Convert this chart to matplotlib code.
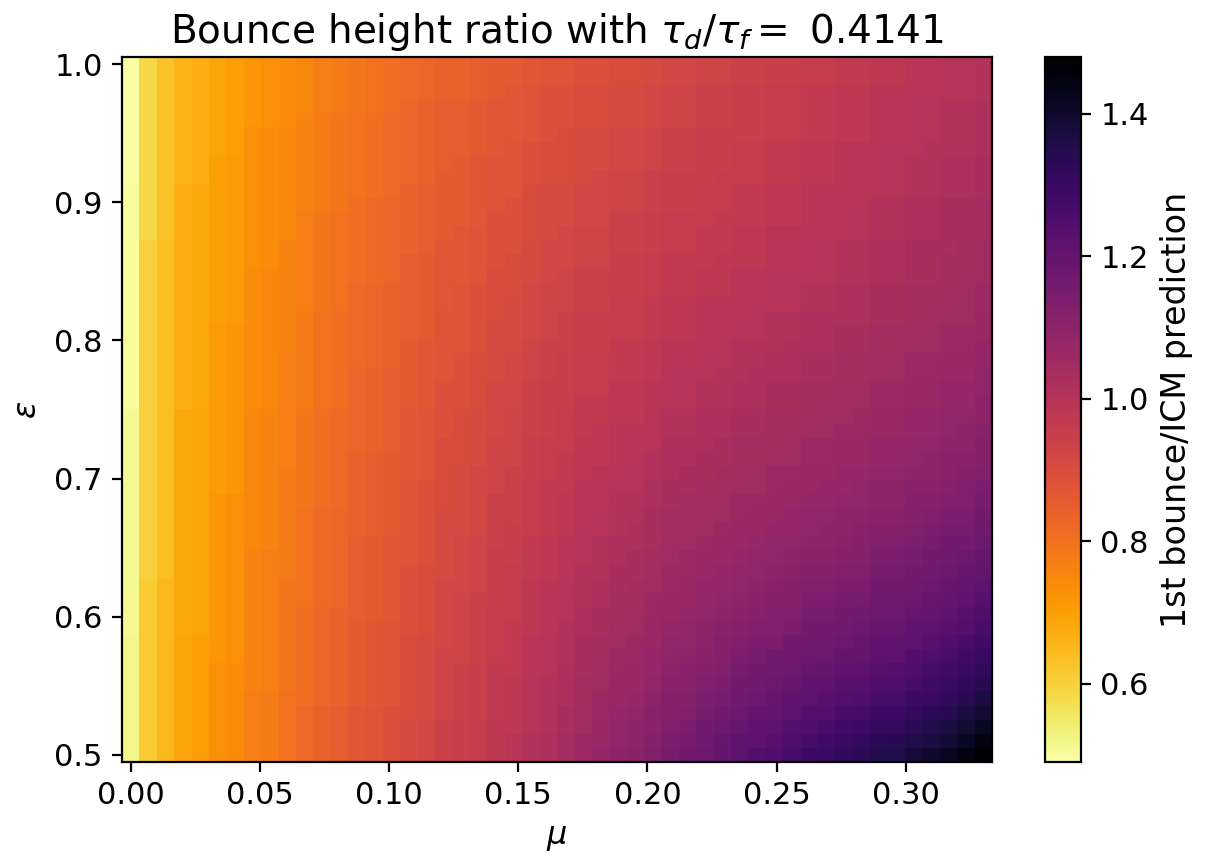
import numpy as np
import matplotlib
matplotlib.use("Agg")
import matplotlib.pyplot as plt

tau_ratio = "0.4141"

# grid of the parameter scan (cell centres)
mu = np.linspace(0.0, 0.33, 50)
eps = np.linspace(0.5, 1.0, 50)

# 1st bounce / ICM prediction, x100
# one line per eps (first line eps=0.5, last line eps=1.0), one column per mu
ratio_x100 = """
52 61 65 69 70 73 74 77 78 80 82 84 85 87 88 89 91 92 94 95 96 98 99 101 102 104 106 108 110 111 113 115 116 118 120 122 124 125 127 129 130 132 133 135 136 138 140 142 145 148
52 61 65 69 70 73 74 77 78 80 82 84 85 87 88 89 91 92 94 95 96 98 99 101 102 104 106 107 109 110 112 114 115 117 119 121 122 123 125 127 128 130 131 133 134 136 137 139 142 145
52 61 65 69 70 73 74 77 78 80 82 84 85 87 88 89 91 92 94 95 96 98 98 100 101 103 105 107 109 110 111 113 114 116 118 119 121 122 124 125 126 128 129 131 131 133 135 137 139 142
52 61 65 69 70 73 74 77 78 80 82 84 85 87 88 89 90 91 93 94 95 97 98 100 101 103 105 106 108 109 111 112 113 115 116 118 120 120 122 124 124 126 127 129 129 131 133 134 137 139
52 61 65 69 70 73 74 77 78 80 81 83 84 86 87 88 90 91 93 94 95 97 98 100 101 102 104 106 107 108 110 112 112 114 115 117 118 119 121 122 123 124 125 127 127 129 130 132 134 137
52 61 65 69 70 73 74 76 77 79 81 83 84 86 87 88 90 91 93 94 95 97 98 100 101 102 104 105 107 107 109 111 111 113 114 116 117 118 119 121 121 123 123 125 125 127 128 130 132 134
52 61 65 69 70 73 74 76 77 79 81 83 84 86 87 88 90 91 93 94 95 97 97 99 100 102 103 105 106 107 108 110 111 112 113 115 116 117 118 119 120 121 122 123 124 125 127 128 130 132
52 61 65 69 70 72 73 76 77 79 81 83 84 86 87 88 90 91 93 93 94 96 97 99 100 101 103 104 106 106 108 109 110 111 112 114 115 116 117 118 118 120 120 122 122 124 125 126 128 130
52 61 65 69 70 72 73 76 77 79 81 83 84 86 87 88 90 91 92 93 94 96 97 99 100 101 103 104 105 106 107 109 109 110 112 113 114 114 116 117 117 118 119 121 121 122 123 125 126 128
51 61 65 68 69 72 73 76 77 79 81 83 84 86 87 88 89 90 92 93 94 96 97 98 99 101 102 103 105 105 107 108 109 110 111 112 113 113 114 116 116 117 118 119 119 121 122 123 124 126
51 61 65 68 69 72 73 76 77 79 81 83 84 85 86 87 89 90 92 93 94 96 96 98 99 100 102 103 104 105 106 107 108 109 110 111 112 113 113 115 115 116 117 118 118 119 120 121 123 125
51 61 65 68 69 72 73 76 77 79 80 82 83 85 86 87 89 90 92 93 94 95 96 98 99 100 101 102 104 104 106 107 107 108 109 110 111 112 112 114 114 115 115 117 117 118 119 120 121 123
51 61 65 68 69 72 73 76 77 79 80 82 83 85 86 87 89 90 92 92 93 95 96 98 99 100 101 102 103 104 105 106 107 108 108 109 110 111 112 113 113 114 114 116 116 117 118 119 120 122
51 60 64 68 69 72 73 76 77 78 80 82 83 85 86 87 89 90 91 92 93 95 96 97 98 99 101 101 103 103 104 106 106 107 108 109 109 110 111 112 112 113 113 115 115 116 117 118 119 120
51 60 64 68 69 72 73 76 77 78 80 82 83 85 86 87 88 89 91 92 93 95 95 97 98 99 100 101 102 103 104 105 106 107 107 108 109 109 110 111 111 112 112 114 114 115 116 117 118 119
51 60 64 68 69 72 73 75 76 78 80 82 83 85 86 87 88 89 91 92 93 94 95 97 98 99 100 101 102 102 103 105 105 106 107 107 108 109 109 110 110 111 112 113 113 114 115 116 116 118
51 60 64 68 69 72 73 75 76 78 80 82 83 84 85 86 88 89 91 91 92 94 95 96 97 98 100 100 101 102 103 104 105 105 106 107 107 108 108 109 110 110 111 112 112 113 114 115 115 117
51 60 64 68 69 72 73 75 76 78 80 82 83 84 85 86 88 89 91 91 92 94 94 96 97 98 99 100 101 101 103 104 104 105 105 106 107 107 108 109 109 110 110 111 111 112 113 114 114 116
51 60 64 68 69 72 73 75 76 78 79 81 82 84 85 86 88 89 90 91 92 94 94 96 97 98 99 99 101 101 102 103 104 104 105 106 106 107 107 108 108 109 109 110 110 112 112 113 113 115
51 60 64 68 69 71 72 75 76 78 79 81 82 84 85 86 88 89 90 91 92 93 94 96 97 97 99 99 100 100 102 103 103 104 104 105 105 106 107 107 108 108 109 110 110 111 111 112 113 114
51 60 64 68 69 71 72 75 76 78 79 81 82 84 85 86 87 88 90 91 92 93 94 95 96 97 98 99 100 100 101 102 103 103 104 105 105 106 106 107 107 108 108 109 109 110 110 111 112 113
51 60 64 68 69 71 72 75 76 77 79 81 82 84 85 86 87 88 90 90 91 93 93 95 96 97 98 98 99 100 101 102 102 103 103 104 104 105 105 106 106 107 107 108 108 109 110 111 111 112
51 60 64 68 69 71 72 75 76 77 79 81 82 83 84 85 87 88 90 90 91 93 93 95 96 96 98 98 99 99 100 102 102 102 103 104 104 104 105 106 106 107 107 108 108 109 109 110 110 112
51 60 64 68 69 71 72 75 76 77 79 81 82 83 84 85 87 88 89 90 91 92 93 94 95 96 97 98 99 99 100 101 101 102 102 103 103 104 104 105 105 106 106 107 107 108 108 109 110 111
51 60 64 68 69 71 72 75 76 77 79 81 82 83 84 85 87 88 89 90 91 92 93 94 95 96 97 97 98 98 100 101 101 102 102 103 103 104 104 105 105 105 106 107 107 108 108 109 109 110
50 60 64 67 68 71 72 74 75 77 78 80 81 83 84 85 86 87 89 89 90 92 92 94 95 95 97 97 98 98 99 100 100 101 101 102 102 103 103 104 104 105 105 106 106 107 107 108 108 110
50 60 64 67 68 71 72 74 75 77 78 80 81 83 84 85 86 87 89 89 90 92 92 94 95 95 96 96 98 98 99 100 100 101 101 102 102 103 103 104 104 104 105 106 106 107 107 108 108 109
50 60 64 67 68 71 72 74 75 77 78 80 81 83 84 85 86 87 88 89 90 91 92 93 94 95 96 96 97 97 98 100 100 100 101 101 102 102 102 103 103 104 104 105 105 106 106 107 107 109
50 60 64 67 68 71 72 74 75 77 78 80 81 82 83 84 86 87 88 89 90 91 92 93 94 95 96 96 97 97 98 99 99 100 100 101 101 102 102 103 103 104 104 105 105 106 106 107 107 108
50 60 64 67 68 71 72 74 75 76 78 80 81 82 83 84 86 87 88 88 89 91 91 93 94 94 95 95 97 97 98 99 99 100 100 101 101 101 102 102 102 103 103 104 104 105 105 106 106 108
50 60 64 67 68 71 72 74 75 76 78 80 81 82 83 84 85 86 88 88 89 91 91 92 93 94 95 95 96 96 97 98 98 99 99 100 100 101 101 102 102 103 103 104 104 105 105 106 106 107
50 60 64 67 68 70 71 74 75 76 78 80 81 82 83 84 85 86 88 88 89 90 91 92 93 94 95 95 96 96 97 98 98 99 99 100 100 101 101 102 102 102 102 103 103 104 104 105 105 107
50 60 64 67 68 70 71 74 75 76 77 79 80 82 83 84 85 86 87 88 89 90 91 92 93 93 94 94 96 96 97 98 98 99 99 99 100 100 100 101 101 102 102 103 103 104 104 105 105 106
50 60 64 67 68 70 71 74 75 76 77 79 80 82 83 84 85 86 87 88 89 90 90 92 93 93 94 94 95 95 96 97 97 98 98 99 99 100 100 101 101 102 102 103 103 104 104 104 105 106
50 60 64 67 68 70 71 74 75 76 77 79 80 81 82 83 85 86 87 87 88 90 90 91 92 93 94 94 95 95 96 97 97 98 98 99 99 100 100 100 100 101 101 102 102 103 103 104 104 105
50 60 64 67 68 70 71 73 74 76 77 79 80 81 82 83 85 86 87 87 88 89 90 91 92 92 93 93 95 95 96 97 97 97 98 98 98 99 99 100 100 101 101 102 102 103 103 104 104 105
50 60 64 67 68 70 71 73 74 76 77 79 80 81 82 83 84 85 87 87 88 89 89 91 92 92 93 93 94 94 95 96 96 97 97 98 98 99 99 100 100 101 101 102 102 103 103 103 104 105
50 59 63 67 68 70 71 73 74 75 77 79 80 81 82 83 84 85 86 87 88 89 89 90 91 92 93 93 94 94 95 96 96 97 97 98 98 99 99 99 99 100 100 101 101 102 102 103 103 104
50 59 63 67 68 70 71 73 74 75 77 79 80 81 82 83 84 85 86 86 87 89 89 90 91 91 92 92 94 94 95 96 96 96 97 97 97 98 98 99 99 100 100 101 101 102 102 103 103 104
50 59 63 67 68 70 71 73 74 75 76 78 79 81 82 83 84 85 86 86 87 88 89 90 91 91 92 92 93 93 94 95 95 96 96 97 97 98 98 99 99 100 100 101 101 102 102 103 103 104
50 59 63 67 68 70 71 73 74 75 76 78 79 80 81 82 84 85 86 86 87 88 88 90 91 91 92 92 93 93 94 95 95 96 96 97 97 98 98 99 99 99 99 100 100 101 101 102 102 103
49 59 63 66 67 70 71 73 74 75 76 78 79 80 81 82 83 84 86 86 87 88 88 89 90 90 91 92 93 93 94 95 95 95 96 96 96 97 97 98 98 99 99 100 100 101 101 102 102 103
49 59 63 66 67 70 71 73 74 75 76 78 79 80 81 82 83 84 85 86 87 88 88 89 90 90 91 91 92 92 93 94 94 95 95 96 96 97 97 98 98 99 99 100 100 101 101 102 102 103
49 59 63 66 67 69 70 73 74 75 76 78 79 80 81 82 83 84 85 85 86 87 88 89 90 90 91 91 92 92 93 94 94 95 95 96 96 97 97 98 98 99 99 100 100 100 101 101 101 102
49 59 63 66 67 69 70 73 74 75 76 78 79 80 81 82 83 84 85 85 86 87 87 88 89 90 91 91 92 92 93 94 94 95 95 95 95 96 96 97 97 98 98 99 99 100 100 101 101 102
49 59 63 66 67 69 70 72 73 74 76 78 79 80 81 82 83 84 85 85 86 87 87 88 89 89 90 90 91 91 92 93 93 94 94 95 95 96 96 97 97 98 98 99 99 100 100 101 101 102
49 59 63 66 67 69 70 72 73 74 75 77 78 79 80 81 83 84 85 85 86 87 87 88 89 89 90 90 91 91 92 93 93 94 94 95 95 96 96 97 97 98 98 99 99 100 100 101 101 102
49 59 63 66 67 69 70 72 73 74 75 77 78 79 80 81 82 83 84 84 85 86 87 88 89 89 90 90 91 91 92 93 93 94 94 95 95 96 96 97 97 98 98 99 99 100 100 100 100 101
49 59 63 66 67 69 70 72 73 74 75 77 78 79 80 81 82 83 84 84 85 86 86 87 88 88 89 89 90 90 91 92 92 93 93 94 94 95 95 96 96 97 97 98 98 99 99 100 100 101
49 59 63 66 67 69 70 72 73 74 75 77 78 79 80 81 82 83 84 84 85 86 86 87 88 88 89 89 90 90 91 92 92 93 93 94 94 95 95 96 96 97 97 98 98 99 99 100 100 101
"""
ratio = np.array([[int(v) for v in line.split()]
                  for line in ratio_x100.strip().splitlines()]) / 100.0
assert ratio.shape == (len(eps), len(mu)), ratio.shape

plt.rcParams["font.size"] = 11

fig = plt.figure(figsize=(6.035, 4.29), dpi=200)
ax = fig.add_axes([0.1011, 0.1119, 0.7208, 0.8217])
cax = fig.add_axes([0.8658, 0.1119, 0.0298, 0.8217])

mesh = ax.pcolormesh(mu, eps, ratio, cmap="inferno_r", shading="nearest")
ax.set_xlabel(r"$\mu$", fontsize=11.5)
ax.set_ylabel(r"$\epsilon$", fontsize=11.5)
ax.set_title(r"Bounce height ratio with $\tau_d/\tau_f=$ " + tau_ratio,
             fontsize=14, pad=5)

cb = fig.colorbar(mesh, cax=cax)
cb.set_label("1st bounce/ICM prediction", fontsize=12)

fig.savefig("out.png", dpi=200)
